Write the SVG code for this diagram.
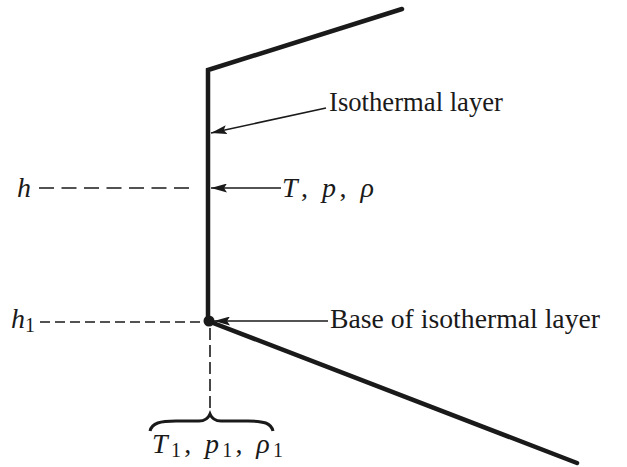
<svg xmlns="http://www.w3.org/2000/svg" width="627" height="467" viewBox="0 0 627 467">
<style>
.thick{fill:none;stroke:#1a1a1a;stroke-width:4.5;stroke-linecap:round;stroke-linejoin:miter}
.thin{fill:none;stroke:#1a1a1a;stroke-width:1.6}
.dash{fill:none;stroke:#1a1a1a;stroke-width:1.6}
.t{font-family:"Liberation Serif","Times New Roman",serif;font-size:28px;fill:#1a1a1a}
.i{font-style:italic}
.sub{font-size:20px;font-style:normal}
</style>
<defs>
<marker id="ah" viewBox="0 0 16 9" refX="16" refY="4.5" markerWidth="16" markerHeight="9" markerUnits="userSpaceOnUse" orient="auto">
<path d="M0,0 L16,4.5 L0,9 L3,4.5 Z" fill="#1a1a1a"/>
</marker>
</defs>
<rect width="627" height="467" fill="#ffffff"/>
<g id="profile">
<path class="thick" d="M402,9 L208,70 L208,321 L577,463"/>
<circle cx="209" cy="321" r="5.5" fill="#1a1a1a"/>
</g>
<g id="connectors">
<line class="thin" x1="326" y1="108" x2="211" y2="133" marker-end="url(#ah)"/>
<line class="thin" x1="281" y1="188" x2="211" y2="188" marker-end="url(#ah)"/>
<line class="thin" x1="328" y1="321" x2="214" y2="321" marker-end="url(#ah)"/>
<line class="dash" x1="39" y1="188" x2="196" y2="188" stroke-dasharray="15,7.5"/>
<line class="dash" x1="40" y1="322" x2="203" y2="322" stroke-dasharray="10,5"/>
<line class="dash" x1="210" y1="328" x2="210" y2="414" stroke-dasharray="12,5"/>
</g>
<g id="brace">
<path d="M150,431 C152,423 160,421 176,421 L199,421 C205,421 208,419 210,414 C212,419 215,421 221,421 L248,421 C264,421 271,423 273,431" fill="none" stroke="#1a1a1a" stroke-width="3"/>
</g>
<g id="label-isothermal">
<text class="t" x="329" y="111" textLength="174" lengthAdjust="spacingAndGlyphs">Isothermal layer</text>
</g>
<g id="label-Tprho">
<text class="t" x="282" y="197" textLength="92" lengthAdjust="spacing"><tspan class="i">T</tspan>, <tspan class="i">p</tspan>, <tspan class="i">ρ</tspan></text>
</g>
<g id="label-h">
<text class="t i" x="17" y="197">h</text>
</g>
<g id="label-h1">
<text class="t" x="11" y="328"><tspan class="i">h</tspan><tspan class="sub" dy="4">1</tspan></text>
</g>
<g id="label-base">
<text class="t" x="330" y="328" textLength="270" lengthAdjust="spacingAndGlyphs">Base of isothermal layer</text>
</g>
<g id="label-T1">
<text class="t" x="152" y="453" textLength="131" lengthAdjust="spacing"><tspan class="i">T</tspan><tspan class="sub" dy="4">1</tspan><tspan dy="-4">, </tspan><tspan class="i">p</tspan><tspan class="sub" dy="4">1</tspan><tspan dy="-4">, </tspan><tspan class="i">ρ</tspan><tspan class="sub" dy="4">1</tspan></text>
</g>
</svg>
